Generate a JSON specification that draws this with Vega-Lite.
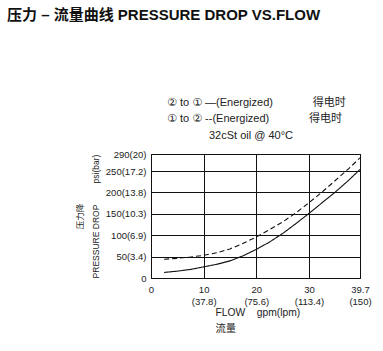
{
  "$schema": "https://vega.github.io/schema/vega-lite/v6.json",
  "autosize": {"type": "none"},
  "padding": {"left": 151, "top": 154, "right": 23, "bottom": 73},
  "width": 209,
  "height": 124,
  "background": "white",
  "title": {
    "text": "压力 – 流量曲线 PRESSURE DROP VS.FLOW",
    "anchor": "start",
    "frame": "group",
    "orient": "top",
    "dx": -144,
    "offset": 62,
    "baseline": "alphabetic",
    "font": "Liberation Sans, Noto Sans CJK SC",
    "fontSize": 15,
    "fontWeight": "bold",
    "color": "#111"
  },
  "data": {
    "values": [
      {"series": "② to ① —(Energized)", "gpm": 2.5, "psi": 13},
      {"series": "② to ① —(Energized)", "gpm": 5, "psi": 16},
      {"series": "② to ① —(Energized)", "gpm": 7.5, "psi": 20},
      {"series": "② to ① —(Energized)", "gpm": 10, "psi": 26},
      {"series": "② to ① —(Energized)", "gpm": 12.5, "psi": 32},
      {"series": "② to ① —(Energized)", "gpm": 15, "psi": 40},
      {"series": "② to ① —(Energized)", "gpm": 17.5, "psi": 52},
      {"series": "② to ① —(Energized)", "gpm": 20, "psi": 67},
      {"series": "② to ① —(Energized)", "gpm": 22.5, "psi": 84},
      {"series": "② to ① —(Energized)", "gpm": 25, "psi": 104},
      {"series": "② to ① —(Energized)", "gpm": 27.5, "psi": 127},
      {"series": "② to ① —(Energized)", "gpm": 30, "psi": 151},
      {"series": "② to ① —(Energized)", "gpm": 32.5, "psi": 176},
      {"series": "② to ① —(Energized)", "gpm": 35, "psi": 201},
      {"series": "② to ① —(Energized)", "gpm": 37.5, "psi": 228},
      {"series": "② to ① —(Energized)", "gpm": 39.7, "psi": 254},
      {"series": "① to ② --(Energized)", "gpm": 2.5, "psi": 44},
      {"series": "① to ② --(Energized)", "gpm": 5, "psi": 46},
      {"series": "① to ② --(Energized)", "gpm": 7.5, "psi": 49},
      {"series": "① to ② --(Energized)", "gpm": 10, "psi": 53},
      {"series": "① to ② --(Energized)", "gpm": 12.5, "psi": 59},
      {"series": "① to ② --(Energized)", "gpm": 15, "psi": 68},
      {"series": "① to ② --(Energized)", "gpm": 17.5, "psi": 81},
      {"series": "① to ② --(Energized)", "gpm": 20, "psi": 96},
      {"series": "① to ② --(Energized)", "gpm": 22.5, "psi": 113},
      {"series": "① to ② --(Energized)", "gpm": 25, "psi": 131},
      {"series": "① to ② --(Energized)", "gpm": 27.5, "psi": 152},
      {"series": "① to ② --(Energized)", "gpm": 30, "psi": 176},
      {"series": "① to ② --(Energized)", "gpm": 32.5, "psi": 201},
      {"series": "① to ② --(Energized)", "gpm": 35, "psi": 228},
      {"series": "① to ② --(Energized)", "gpm": 37.5, "psi": 255},
      {"series": "① to ② --(Energized)", "gpm": 39.7, "psi": 281}
    ]
  },
  "mark": {"type": "line", "color": "#111", "strokeWidth": 1.1, "clip": true},
  "encoding": {
    "x": {
      "field": "gpm",
      "type": "quantitative",
      "scale": {"domain": [0, 39.7], "nice": false, "zero": false},
      "axis": {
        "values": [0, 10, 20, 30, 39.7],
        "labelExpr": "datum.value == 0 ? '0' : datum.value == 10 ? ['10', '(37.8)'] : datum.value == 20 ? ['20', '(75.6)'] : datum.value == 30 ? ['30', '(113.4)'] : ['39.7', '(150)']",
        "title": ["FLOW\u00a0\u00a0\u00a0\u00a0gpm(lpm)", "流量"],
        "titleAlign": "left",
        "titleAnchor": "start",
        "titleX": 64,
        "titleY": 29,
        "titleBaseline": "top",
        "titleLineHeight": 16,
        "titleFontSize": 10.3,
        "ticks": false,
        "labelPadding": 6,
        "labelLineHeight": 12,
        "labelOverlap": false,
        "labelFlush": false,
        "labelBound": false,
        "domain": false
      }
    },
    "y": {
      "field": "psi",
      "type": "quantitative",
      "scale": {"domain": [0, 290], "nice": false},
      "axis": {
        "values": [0, 50, 100, 150, 200, 250, 290],
        "labelExpr": "datum.value == 0 ? '0' : datum.value == 50 ? '50(3.4)' : datum.value == 100 ? '100(6.9)' : datum.value == 150 ? '150(10.3)' : datum.value == 200 ? '200(13.8)' : datum.value == 250 ? '250(17.2)' : '290(20)'",
        "title": ["\u00a0\u00a0\u00a0\u00a0\u00a0\u00a0\u00a0\u00a0\u00a0压力降", "PRESSURE DROP\u00a0\u00a0\u00a0\u00a0\u00a0\u00a0\u00a0\u00a0\u00a0psi(bar)"],
        "titleFontSize": 8.5,
        "titleLineHeight": 16,
        "titlePadding": 5,
        "ticks": false,
        "labelPadding": 5,
        "labelOverlap": false,
        "labelFlush": false,
        "labelBound": false,
        "domain": false
      }
    },
    "strokeDash": {
      "field": "series",
      "type": "nominal",
      "scale": {
        "domain": ["② to ① —(Energized)", "① to ② --(Energized)"],
        "range": [[1, 0], [5, 3]]
      },
      "legend": {
        "orient": "none",
        "direction": "vertical",
        "legendX": 5,
        "legendY": -57,
        "title": "32cSt oil @ 40°C",
        "titleOrient": "bottom",
        "titleAnchor": "middle",
        "titleFontSize": 11,
        "titleFontWeight": "normal",
        "titlePadding": 6,
        "titleLimit": 400,
        "symbolOpacity": 0,
        "symbolStrokeWidth": 0,
        "symbolSize": 1,
        "labelOffset": 0,
        "labelFontSize": 11,
        "labelLimit": 400,
        "rowPadding": 4.5,
        "padding": 0,
        "labelExpr": "datum.label + '\u00a0\u00a0\u00a0\u00a0\u00a0\u00a0\u00a0\u00a0\u00a0\u00a0\u00a0\u00a0\u00a0得电时'"
      }
    }
  },
  "config": {
    "font": "Liberation Sans, DejaVu Sans, Noto Sans CJK SC",
    "view": {"stroke": "#111", "strokeWidth": 1},
    "axis": {
      "grid": true,
      "gridColor": "#111",
      "gridOpacity": 1,
      "gridWidth": 1,
      "labelFont": "Liberation Sans, DejaVu Sans",
      "labelFontSize": 9.5,
      "labelColor": "#222",
      "titleFont": "Liberation Sans, Noto Sans CJK SC",
      "titleFontWeight": "normal",
      "titleColor": "#222"
    },
    "legend": {
      "labelFont": "Liberation Sans, DejaVu Sans, Noto Sans CJK SC",
      "titleFont": "Liberation Sans, DejaVu Sans",
      "labelColor": "#222",
      "titleColor": "#222"
    }
  }
}
